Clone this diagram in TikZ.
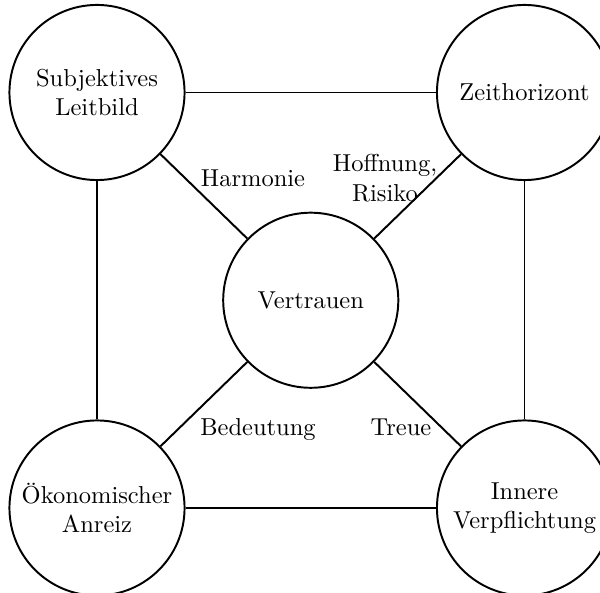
\documentclass[tikz,border=0pt]{standalone}
\usepackage{fontspec}
\begin{document}
\begin{tikzpicture}[x=0.4083pt,y=-0.4083pt,
  concept/.style={draw,circle,line width=0.8pt,minimum size=71.5pt,inner sep=0pt,align=center},
  link/.style={line width=0.8pt},
  tag/.style={anchor=base,align=center,inner sep=0pt}]
\useasboundingbox (0,0) rectangle (600,593);
% concept circles
\node[concept] (leit) at (97,92.5) {Subjektives\\Leitbild};
\node[concept] (zeit) at (524.5,92.5) {Zeithorizont};
\node[concept] (oeko) at (97,508) {Ökonomischer\\Anreiz};
\node[concept] (inn) at (524.5,508) {Innere\\Verpflichtung};
\node[concept] (vert) at (310.75,300.25) {Vertrauen};
% outer frame
\draw[link] (leit) -- (zeit);
\draw[link] (leit) -- (oeko);
\draw[link] (zeit) -- (inn);
\draw[link] (oeko) -- (inn);
% spokes
\draw[link] (vert) -- (leit);
\draw[link] (vert) -- (zeit);
\draw[link] (vert) -- (oeko);
\draw[link] (vert) -- (inn);
% spoke labels
\node[tag] (harm) at (253,187) {Harmonie};
\node[tag] (hoff) at (385,172) {Hoffnung,};
\node[tag] (risk) at (385,202) {Risiko};
\node[tag] (bed) at (258,436) {Bedeutung};
\node[tag] (treu) at (401,436) {Treue};
\end{tikzpicture}
\end{document}
